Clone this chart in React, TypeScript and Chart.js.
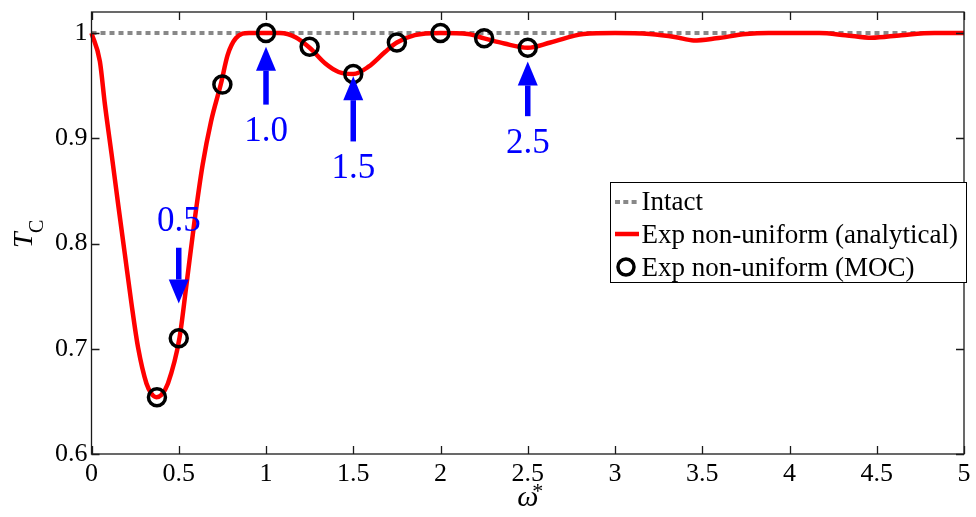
import { useEffect, useRef } from "react";
import { Chart, registerables } from "chart.js";

Chart.register(...registerables);

// Dimensionless frequency and transmission coefficient T_C
const omega = [
  0, 0.048, 0.077, 0.115, 0.153, 0.191, 0.229, 0.267, 0.315, 0.345, 0.372, 0.4, 0.438,
  0.504, 0.542, 0.59, 0.637, 0.685, 0.742, 0.78, 0.827, 0.903, 1.0, 1.08, 1.169, 1.25,
  1.34, 1.416, 1.5, 1.587, 1.682, 1.75, 1.853, 2.0, 2.157, 2.25, 2.366, 2.5, 2.63, 2.82,
  3.0, 3.2, 3.35, 3.45, 3.58, 3.75, 3.88, 4.0, 4.17, 4.32, 4.47, 4.64, 4.83, 5.0,
];
const tcAnalytical = [
  1.0, 0.973, 0.932, 0.885, 0.837, 0.79, 0.743, 0.701, 0.667, 0.657, 0.654, 0.656, 0.667,
  0.71, 0.758, 0.821, 0.875, 0.916, 0.952, 0.979, 0.995, 1.0, 1.0, 1.0, 0.996, 0.986,
  0.971, 0.963, 0.961, 0.968, 0.982, 0.991, 0.998, 1.0, 0.999, 0.995, 0.99, 0.986, 0.991,
  0.999, 1.0, 0.999, 0.996, 0.993, 0.995, 0.999, 1.0, 1.0, 1.0, 0.998, 0.9955, 0.998, 1.0,
  1.0,
];
const mocOmega = [0.375, 0.5, 0.75, 1.0, 1.25, 1.5, 1.75, 2.0, 2.25, 2.5];
const mocTc = [0.654, 0.71, 0.951, 1.0, 0.987, 0.961, 0.991, 1.0, 0.995, 0.986];
const intactOmega = [0, 5];
const intactTc = [1, 1];

const xTicks = [0, 0.5, 1, 1.5, 2, 2.5, 3, 3.5, 4, 4.5, 5];
const yTicks = [0.6, 0.7, 0.8, 0.9, 1];

const legendLabels = [
  "Intact",
  "Exp non-uniform (analytical)",
  "Exp non-uniform (MOC)",
];

// Blue callouts: frequency, arrow tail / tip and text baseline in T_C units
const callouts = [
  { label: "0.5", at: 0.5, tail: 0.796, tip: 0.743, text: 0.812 },
  { label: "1.0", at: 1.0, tail: 0.932, tip: 0.987, text: 0.897 },
  { label: "1.5", at: 1.5, tail: 0.897, tip: 0.959, text: 0.862 },
  { label: "2.5", at: 2.5, tail: 0.921, tip: 0.973, text: 0.886 },
];

const SERIF = "'Liberation Serif', 'Times New Roman', serif";

const framePlugin = {
  id: "frame",
  afterDatasetsDraw(chart: any) {
    const { ctx, chartArea: a, scales } = chart;
    const x = scales.x;
    const y = scales.y;
    ctx.save();

    // box and inward ticks
    ctx.strokeStyle = "#1a1a1a";
    ctx.lineWidth = 1.3;
    ctx.strokeRect(a.left, a.top, a.right - a.left, a.bottom - a.top);
    const L = 8;
    ctx.beginPath();
    for (const v of xTicks) {
      const px = Math.round(x.getPixelForValue(v)) + 0.5;
      ctx.moveTo(px, a.bottom);
      ctx.lineTo(px, a.bottom - L);
      ctx.moveTo(px, a.top);
      ctx.lineTo(px, a.top + L);
    }
    for (const v of yTicks) {
      const py = Math.round(y.getPixelForValue(v)) + 0.5;
      ctx.moveTo(a.left, py);
      ctx.lineTo(a.left + L, py);
      ctx.moveTo(a.right, py);
      ctx.lineTo(a.right - L, py);
    }
    ctx.stroke();

    // blue arrows with labels
    ctx.fillStyle = "#0000ff";
    ctx.strokeStyle = "#0000ff";
    const headLen = 24;
    const headW = 10;
    for (const c of callouts) {
      const px = x.getPixelForValue(c.at);
      const tailY = y.getPixelForValue(c.tail);
      const tipY = y.getPixelForValue(c.tip);
      const dir = tipY > tailY ? 1 : -1;
      const baseY = tipY - dir * headLen;
      ctx.lineWidth = 5.5;
      ctx.beginPath();
      ctx.moveTo(px, tailY);
      ctx.lineTo(px, baseY);
      ctx.stroke();
      ctx.beginPath();
      ctx.moveTo(px, tipY);
      ctx.lineTo(px - headW, baseY);
      ctx.lineTo(px + headW, baseY);
      ctx.closePath();
      ctx.fill();
      ctx.font = `35px ${SERIF}`;
      ctx.textAlign = "center";
      ctx.textBaseline = "alphabetic";
      ctx.fillText(c.label, px, y.getPixelForValue(c.text));
    }

    // axis titles
    ctx.fillStyle = "#000";
    ctx.textAlign = "left";
    ctx.textBaseline = "alphabetic";
    ctx.save();
    ctx.translate(32, (a.top + a.bottom) / 2);
    ctx.rotate(-Math.PI / 2);
    ctx.font = `italic 28px ${SERIF}`;
    ctx.fillText("T", -15, 0);
    ctx.font = `20px ${SERIF}`;
    ctx.fillText("C", 0, 11);
    ctx.restore();

    const cx = (a.left + a.right) / 2;
    ctx.font = `italic 30px ${SERIF}`;
    ctx.textAlign = "center";
    ctx.fillText("\u03c9", cx, 506);
    ctx.font = `22px ${SERIF}`;
    ctx.fillText("*", cx + 10, 498);

    // legend
    const lx = 610.5;
    const ly = 182.5;
    const lw = 356;
    const lh = 100;
    ctx.fillStyle = "#fff";
    ctx.fillRect(lx, ly, lw, lh);
    ctx.strokeStyle = "#000";
    ctx.lineWidth = 1;
    ctx.strokeRect(lx, ly, lw, lh);
    const rowY = [202, 234, 267];
    const baseY = [210, 243, 276];
    ctx.lineCap = "butt";
    // dotted sample
    ctx.strokeStyle = "#888";
    ctx.lineWidth = 4;
    ctx.setLineDash([5, 3.3]);
    ctx.beginPath();
    ctx.moveTo(615, rowY[0]);
    ctx.lineTo(639, rowY[0]);
    ctx.stroke();
    ctx.setLineDash([]);
    // red sample
    ctx.strokeStyle = "#ff0000";
    ctx.lineWidth = 4.5;
    ctx.beginPath();
    ctx.moveTo(615, rowY[1]);
    ctx.lineTo(639, rowY[1]);
    ctx.stroke();
    // circle sample
    ctx.strokeStyle = "#000";
    ctx.lineWidth = 3.5;
    ctx.beginPath();
    ctx.arc(626, rowY[2], 8, 0, Math.PI * 2);
    ctx.stroke();
    ctx.fillStyle = "#000";
    ctx.font = `27px ${SERIF}`;
    ctx.textAlign = "left";
    legendLabels.forEach((t, i) => ctx.fillText(t, 641.5, baseY[i]));

    ctx.restore();
  },
};

const fmt = (v: number | string) => String(Number(Number(v).toFixed(2)));

export default function App() {
  const canvasRef = useRef<HTMLCanvasElement | null>(null);

  useEffect(() => {
    document.body.style.margin = "0";
    const canvas = canvasRef.current;
    if (!canvas) return;

    const chart = new Chart(canvas, {
      type: "line",
      data: {
        datasets: [
          {
            label: legendLabels[2],
            data: mocOmega.map((v, i) => ({ x: v, y: mocTc[i] })),
            showLine: false,
            pointRadius: 8.5,
            pointBorderWidth: 3.5,
            pointBorderColor: "#000",
            pointBackgroundColor: "rgba(0,0,0,0)",
            clip: false,
          },
          {
            label: legendLabels[1],
            data: omega.map((v, i) => ({ x: v, y: tcAnalytical[i] })),
            borderColor: "#ff0000",
            borderWidth: 4.5,
            pointRadius: 0,
            cubicInterpolationMode: "monotone",
            clip: false,
          },
          {
            label: legendLabels[0],
            data: intactOmega.map((v, i) => ({ x: v, y: intactTc[i] })),
            borderColor: "#888888",
            borderWidth: 4,
            borderDash: [5, 4],
            pointRadius: 0,
            clip: false,
          },
        ],
      },
      options: {
        animation: false,
        responsive: false,
        devicePixelRatio: 1,
        events: [],
        layout: { padding: { top: 10, right: 6.5, left: 0, bottom: 0 } },
        plugins: { legend: { display: false }, tooltip: { enabled: false } },
        scales: {
          x: {
            type: "linear",
            min: 0,
            max: 5,
            afterBuildTicks: (s: any) => {
              s.ticks = xTicks.map((v) => ({ value: v }));
            },
            afterFit: (s: any) => {
              s.height = 63;
              s.paddingLeft = 0;
              s.paddingRight = 0;
            },
            grid: { display: false, drawTicks: false },
            border: { display: false },
            ticks: {
              padding: 5,
              color: "#000",
              maxRotation: 0,
              autoSkip: false,
              font: { family: SERIF, size: 26 },
              callback: (v: any) => fmt(v),
            },
          },
          y: {
            type: "linear",
            min: 0.6,
            max: 1.02,
            afterBuildTicks: (s: any) => {
              s.ticks = yTicks.map((v) => ({ value: v }));
            },
            afterFit: (s: any) => {
              s.width = 91.5;
              s.paddingTop = 0;
              s.paddingBottom = 0;
            },
            grid: { display: false, drawTicks: false },
            border: { display: false },
            ticks: {
              padding: 4,
              color: "#000",
              autoSkip: false,
              font: { family: SERIF, size: 26 },
              callback: (v: any) => fmt(v),
            },
          },
        },
      },
      plugins: [framePlugin],
    });

    return () => chart.destroy();
  }, []);

  return (
    <div style={{ position: "absolute", left: 0, top: 0, width: 976, height: 517 }}>
      <canvas ref={canvasRef} width={976} height={517} />
    </div>
  );
}
